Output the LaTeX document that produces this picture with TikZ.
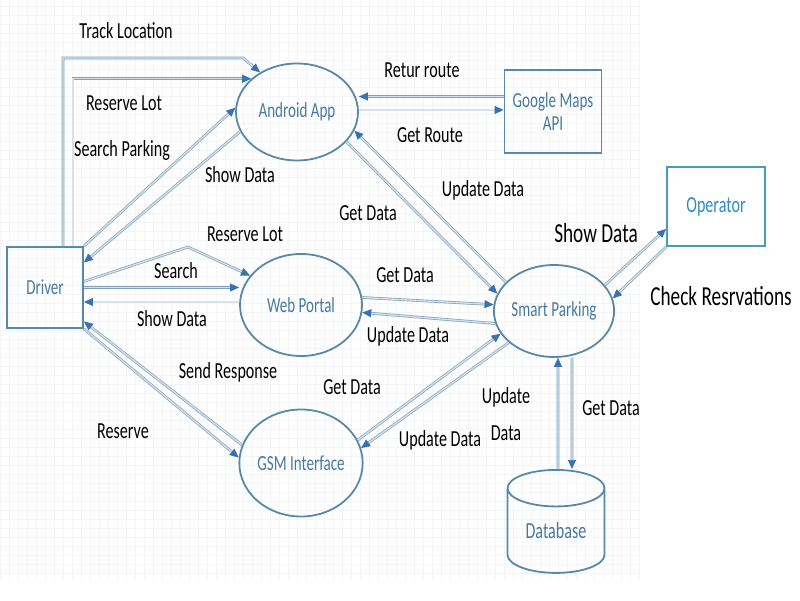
\documentclass[tikz,border=0pt]{standalone}
\usepackage{fontspec}
\setmainfont{Carlito}
\usetikzlibrary{shapes.geometric,arrows.meta}
\definecolor{outline}{RGB}{88,136,170}
\definecolor{nodetext}{RGB}{70,120,160}
\definecolor{optext}{RGB}{50,140,190}
\definecolor{opline}{RGB}{70,155,190}
\definecolor{linecol}{RGB}{130,160,185}
\definecolor{linefill}{RGB}{215,227,236}
\definecolor{tipcol}{RGB}{55,115,175}
\definecolor{gridcol}{RGB}{243,245,247}
\newcommand{\narrow}[1]{\scalebox{0.7}[1]{#1}}
\tikzset{
  process/.style={ellipse,draw=outline,line width=1.8pt,minimum width=122pt,minimum height=97pt,inner sep=0pt,text=nodetext,font=\fontsize{21.5}{23}\selectfont},
  entity/.style={rectangle,draw=outline,line width=1.8pt,minimum width=76pt,minimum height=81pt,inner sep=0pt,text=nodetext,font=\fontsize{21.5}{23}\selectfont,align=center},
  flow/.style={draw=linecol,line width=0.7pt,double=linefill,double distance=1.3pt,-{Triangle[length=9pt,width=8pt,color=tipcol]}},
  lbl/.style={font=\fontsize{23}{37}\selectfont,text=black,xscale=0.7,inner sep=0pt},
  biglbl/.style={lbl,font=\fontsize{27.5}{30}\selectfont}
}
\begin{document}
\begin{tikzpicture}[x=1pt,y=1pt]
\useasboundingbox (0,0) rectangle (800,600);
\draw[gridcol,line width=0.4pt,step=9pt] (0,20) grid (640,600);
% the nodes
\node[entity] (driver) at (45,312.5) {\narrow{Driver}};
\node[process] (android) at (297,488) {\narrow{Android App}};
\node[entity,minimum width=97pt,minimum height=83pt] (gmaps) at (553,488.5) {\narrow{Google Maps}\\\narrow{API}};
\node[entity,draw=opline,text=optext,minimum width=98pt,minimum height=79pt,font=\fontsize{23}{25}\selectfont] (operator) at (716,393.5) {\narrow{Operator}};
\node[process,minimum height=102pt] (webportal) at (301,295) {\narrow{Web Portal}};
\node[process,minimum width=114pt,minimum height=92pt] (smartp) at (554,289) {\narrow{Smart Parking}};
\node[process,minimum height=107pt] (gsm) at (301,137) {\narrow{GSM Interface}};
\node[cylinder,shape border rotate=90,aspect=0.6,draw=outline,line width=1.8pt,minimum width=97pt,minimum height=103pt,inner sep=0pt,text=nodetext,font=\fontsize{23}{25}\selectfont] (database) at (556,69) {\narrow{Database}};
% driver and android app
\coordinate (trackbend) at (243,542);
\draw[flow] ([xshift=18pt]driver.north) |- (trackbend) -- (android.133);
\draw[flow] ([xshift=28pt]driver.north) |- (android.144);
\draw[flow] (driver.north east) -- (android.176);
\draw[flow] (android.199) -- ([yshift=25pt]driver.east);
% driver and web portal, gsm
\coordinate (lotbend) at (188,353);
\draw[flow] ([yshift=6pt]driver.east) -- (lotbend) -- (webportal.150);
\draw[flow] (driver.east) -- (driver.east -| webportal.west);
\draw[flow] ([yshift=3pt]webportal.west) -- ([yshift=3pt]webportal.west -| driver.east);
\draw[flow] (gsm.163) -- ([yshift=-34pt]driver.east);
\draw[flow] (driver.south east) -- (gsm.175);
% google maps
\draw[flow] ([yshift=15pt]gmaps.west) -- ([yshift=15pt]gmaps.west -| android.east);
\draw[flow] ([yshift=2pt]android.east) -- ([yshift=2pt]android.east -| gmaps.west);
% smart parking
\draw[flow] (android.329) -- (smartp.163);
\draw[flow] (smartp.149) -- (android.342);
\draw[flow] (webportal.7) -- (smartp.174);
\draw[flow] (smartp.192) -- (webportal.353);
\draw[flow] (gsm.22) -- (smartp.203);
\draw[flow] (smartp.215) -- (gsm.14);
\draw[flow] ([xshift=2pt]database.north) -- ([xshift=4pt]smartp.south);
\draw[flow] ([xshift=18pt]smartp.south) -- ([xshift=16pt]database.north);
\draw[flow] (smartp.27) -- ([yshift=18pt]operator.south west);
\draw[flow] (operator.south west) -- (smartp.12);
% labels
\node[lbl] (ltrack) at (126,569) {Track Location};
\node[lbl] (lreslot) at (124,497) {Reserve Lot};
\node[lbl] (lsearchp) at (122,450) {Search Parking};
\node[lbl] (lshowa) at (240,425) {Show Data};
\node[lbl] (lreswp) at (245,366) {Reserve Lot};
\node[lbl] (lsearch) at (176,329) {Search};
\node[lbl] (lshowwp) at (172,281) {Show Data};
\node[lbl] (lsend) at (228,228) {Send Response};
\node[lbl] (lreserve) at (123,169) {Reserve};
\node[lbl] (lretur) at (422,530) {Retur route};
\node[lbl] (lroute) at (430,465) {Get Route};
\node[lbl] (lupda) at (483,410) {Update Data};
\node[lbl] (lgeta) at (368,387) {Get Data};
\node[lbl] (lgetwp) at (405,325) {Get Data};
\node[lbl] (lupdwp) at (408,264) {Update Data};
\node[lbl] (lgetgsm) at (352,213) {Get Data};
\node[lbl] (lupdgsm) at (440,160) {Update Data};
\node[lbl,align=center] (lupddb) at (506,186) {Update\\Data};
\node[lbl] (lgetdb) at (611,192) {Get Data};
\node[biglbl] (lshowop) at (596,367) {Show Data};
\node[biglbl] (lcheck) at (721,304) {Check Resrvations};
\end{tikzpicture}
\end{document}
